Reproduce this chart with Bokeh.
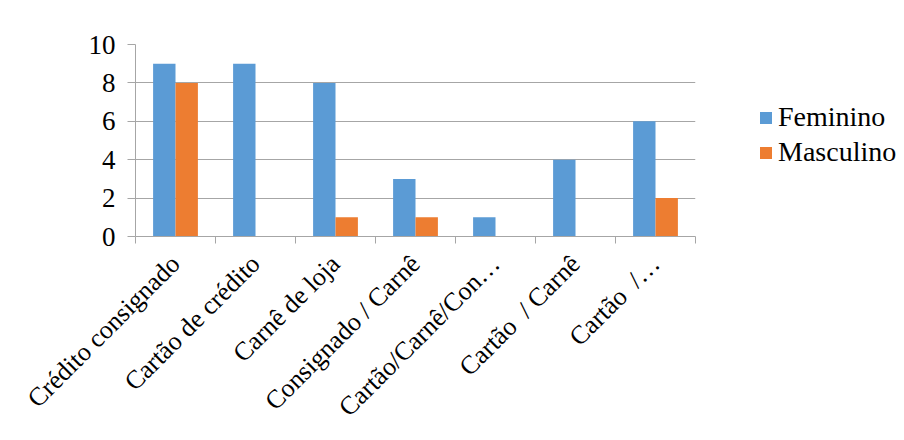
from bokeh.plotting import figure
from bokeh.models import FixedTicker, Legend, LegendItem, ColumnDataSource, Range1d
from bokeh.embed import file_html
from bokeh.resources import INLINE
import math

categories = ["Crédito consignado", "Cartão de crédito", "Carnê de loja", "Consignado / Carnê",
              "Cartão/Carnê/Con…", "Cartão\u00a0 / Carnê", "Cartão\u00a0 /…"]
feminino = [9, 9, 8, 3, 1, 4, 6]
masculino = [8, 0, 1, 1, 0, 0, 2]
y_ticks = [0, 2, 4, 6, 8, 10]

BLUE = "#5B9BD5"
ORANGE = "#ED7D31"
GRID = "#A6A6A6"
FONT = "Liberation Serif"

n = len(categories)
centers = [i + 0.5 for i in range(n)]
bw = 0.28

p = figure(frame_width=560, frame_height=192, output_backend="svg", toolbar_location=None,
           x_range=Range1d(0, n), y_range=Range1d(0, 10),
           min_border_left=135, min_border_top=44, min_border_bottom=0, min_border_right=0)
p.outline_line_color = None
p.background_fill_color = "white"
p.border_fill_color = "white"

src = ColumnDataSource(dict(xf=[c - bw / 2 for c in centers], xm=[c + bw / 2 for c in centers],
                            fem=feminino, mas=masculino))
rf = p.vbar(x="xf", top="fem", width=bw, source=src, fill_color=BLUE, line_color=None)
rm = p.vbar(x="xm", top="mas", width=bw, source=src, fill_color=ORANGE, line_color=None)

# x axis
xa = p.xaxis[0]
xa.ticker = FixedTicker(ticks=centers, minor_ticks=list(range(n + 1)))
xa.major_label_overrides = {c: lab for c, lab in zip(centers, categories)}
xa.major_label_orientation = math.pi / 4
xa.major_tick_line_color = None
xa.major_tick_out = 0
xa.major_tick_in = 0
xa.minor_tick_line_color = GRID
xa.minor_tick_out = 7
xa.minor_tick_in = 0
xa.axis_line_color = GRID
xa.major_label_text_font = FONT
xa.major_label_text_font_size = "26px"
xa.major_label_text_color = "black"
xa.major_label_standoff = 16

# y axis
ya = p.yaxis[0]
ya.ticker = FixedTicker(ticks=y_ticks)
ya.minor_tick_line_color = None
ya.major_tick_line_color = GRID
ya.major_tick_out = 8
ya.major_tick_in = 0
ya.axis_line_color = GRID
ya.major_label_text_font = FONT
ya.major_label_text_font_size = "27px"
ya.major_label_text_color = "black"
ya.major_label_standoff = 12

p.xgrid.grid_line_color = None
p.ygrid.grid_line_color = GRID
p.ygrid.ticker = FixedTicker(ticks=y_ticks)

legend = Legend(items=[LegendItem(label="Feminino", renderers=[rf]),
                       LegendItem(label="Masculino", renderers=[rm])],
                location=(63, 68))
legend.border_line_color = None
legend.background_fill_alpha = 0
legend.padding = 0
legend.margin = 0
legend.spacing = 3
legend.glyph_width = 15
legend.glyph_height = 15
legend.label_standoff = 5
legend.label_text_font = "Times New Roman"
legend.label_text_font_size = "28px"
legend.label_text_color = "black"
p.add_layout(legend, "right")

open("out.html", "w").write(file_html(p, INLINE))
